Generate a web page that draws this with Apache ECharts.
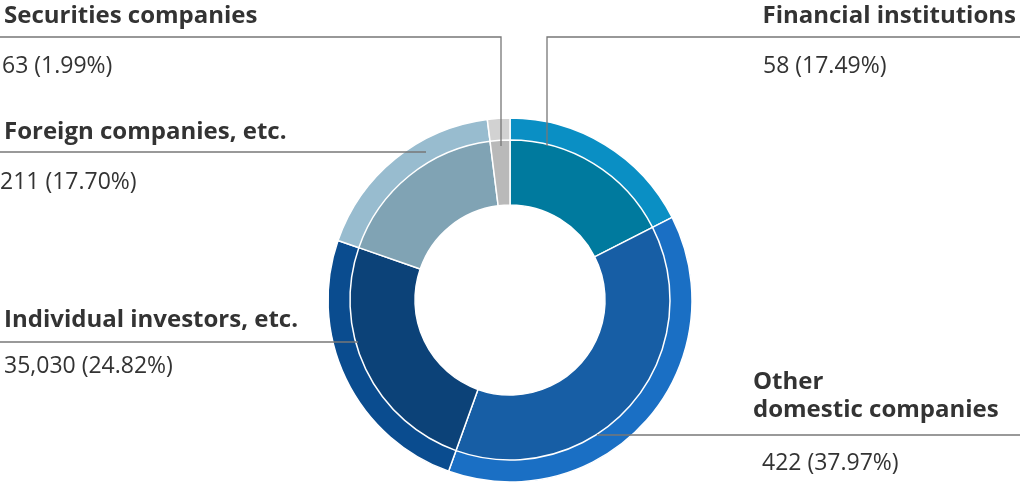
<!DOCTYPE html>
<html><head><meta charset="utf-8">
<script src="https://cdn.jsdelivr.net/npm/echarts@6/dist/echarts.min.js"></script>
<style>html,body{margin:0;padding:0;background:#fff}#c{width:1020px;height:488px}</style>
</head><body><div id="c"></div>
<script>
const categories = ['Financial institutions','Other domestic companies','Individual investors, etc.','Foreign companies, etc.','Securities companies'];
const shares = [17.49, 37.97, 24.82, 17.70, 1.99];
const counts = ['58','422','35,030','211','63'];
const outerColors = ['#0a8fc4','#1a6fc4','#0a4c8f','#98bccf','#d2d2d2'];
const innerColors = ['#007a9e','#175ea5','#0c4278','#80a3b4','#b9b9b9'];

const chart = echarts.init(document.getElementById('c'));
const mk = cols => categories.map((n,i)=>({name:n,value:shares[i],itemStyle:{color:cols[i]}}));
const F = '"Open Sans", sans-serif';
const bold = (x,y,t,align) => ({type:'text',left:undefined,x:x,y:y,style:{text:t,font:'bold 24px '+F,fill:'#333',textAlign:align||'left',textVerticalAlign:'middle'}});
const reg = (x,y,t) => ({type:'text',x:x,y:y,style:{text:t,font:'23px '+F,fill:'#333',textVerticalAlign:'middle'}});
const line = pts => ({type:'polyline',shape:{points:pts},style:{stroke:'#777',lineWidth:1.3,fill:null},z:100});
const lbl = i => counts[i]+' ('+shares[i].toFixed(2)+'%)';
chart.setOption({
  animation:false,
  series:[
    {type:'pie',radius:[95,182],center:[510,300],startAngle:90,clockwise:true,label:{show:false},labelLine:{show:false},
     itemStyle:{borderColor:'#fff',borderWidth:1.5},data:mk(outerColors),silent:true},
    {type:'pie',radius:[95,160],center:[510,300],startAngle:90,clockwise:true,label:{show:false},labelLine:{show:false},
     itemStyle:{borderColor:'#fff',borderWidth:1.5},data:mk(innerColors),silent:true,z:3}
  ],
  graphic:[
    line([[0,37],[501,37],[501,146]]),
    line([[1020,37],[547,37],[547,146]]),
    line([[0,152],[426,152]]),
    line([[0,342],[358,342]]),
    line([[597,435],[1020,435]]),
    bold(4,16,'Securities companies'),
    reg(2,66,lbl(4)),
    bold(1016,16,'Financial institutions','right'),
    reg(763,66,lbl(0)),
    bold(4,132,'Foreign companies, etc.'),
    reg(0,182,lbl(3)),
    bold(4,320,'Individual investors, etc.'),
    reg(4,366,lbl(2)),
    bold(753,382,'Other'),
    bold(753,410,'domestic companies'),
    reg(762,463,lbl(1))
  ]
});
</script></body></html>
